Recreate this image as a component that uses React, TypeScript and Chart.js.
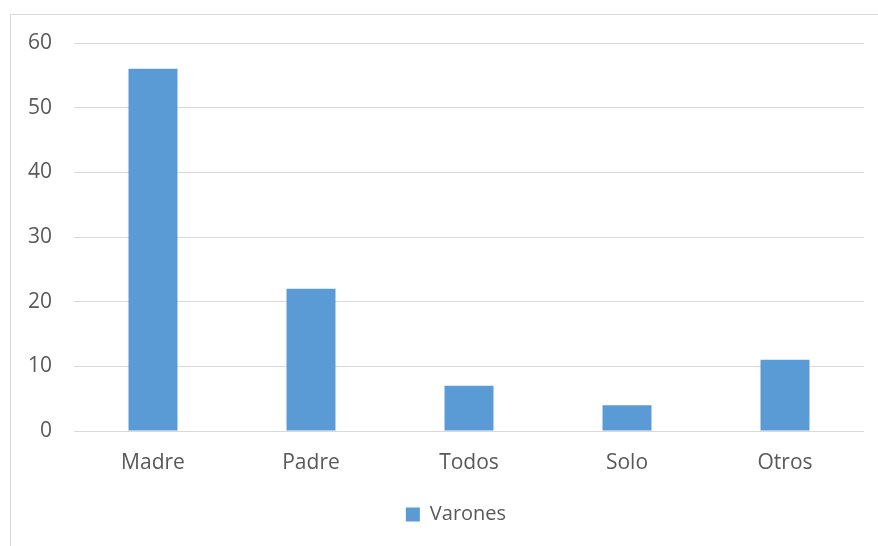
import React, { useEffect, useRef } from "react";
import { Chart, registerables } from "chart.js";

Chart.register(...registerables);

const categories = ["Madre", "Padre", "Todos", "Solo", "Otros"];
const varones = [56, 22, 7, 4, 11];
const seriesLabel = "Varones";
const yMin = 0;
const yMax = 60;
const yStep = 10;

const TEXT = "#595959";
const GRID = "#d9d9d9";
const BAR = "#5b9bd5";
const FONT = "'Open Sans', 'Noto Sans', sans-serif";

const borderPlugin = {
  id: "outerBorder",
  beforeDraw(chart: any) {
    const ctx = chart.ctx;
    ctx.save();
    ctx.strokeStyle = GRID;
    ctx.lineWidth = 1;
    ctx.strokeRect(10.5, 14.5, chart.width, chart.height);
    ctx.restore();
  },
};

const legendShift = {
  id: "legendShift",
  afterLayout(chart: any) {
    if (chart.legend) {
      chart.legend.left += 48;
    }
  },
};

export default function App() {
  const ref = useRef<HTMLCanvasElement | null>(null);
  useEffect(() => {
    if (!ref.current) return;
    const chart = new Chart(ref.current, {
      type: "bar",
      data: {
        labels: categories,
        datasets: [
          {
            label: seriesLabel,
            data: varones,
            backgroundColor: BAR,
            borderWidth: 0,
            barPercentage: 0.31,
            categoryPercentage: 1,
          },
        ],
      },
      options: {
        animation: false,
        responsive: false,
        maintainAspectRatio: false,
        layout: { padding: { left: 0, right: 14, top: 43, bottom: 11.5 } },
        plugins: {
          legend: {
            position: "bottom",
            align: "center",
            labels: {
              color: TEXT,
              font: { family: FONT, size: 20 },
              boxWidth: 14,
              boxHeight: 14,
              padding: 10,
            },
          },
          tooltip: { enabled: false },
        },
        scales: {
          x: {
            grid: { display: false },
            border: { display: false },
            ticks: {
              color: TEXT,
              font: { family: FONT, size: 21 },
              padding: 11,
              maxRotation: 0,
            },
            afterFit(scale: any) {
              scale.height = 63.5;
            },
          },
          y: {
            min: yMin,
            max: yMax,
            grid: { color: GRID, lineWidth: 1, drawTicks: false },
            border: { display: false },
            ticks: {
              stepSize: yStep,
              color: TEXT,
              font: { family: FONT, size: 21 },
              padding: 22,
            },
            afterFit(scale: any) {
              scale.width = 74;
            },
          },
        },
      },
      plugins: [borderPlugin, legendShift],
    });
    return () => chart.destroy();
  }, []);
  return (
    <div style={{ position: "fixed", left: 0, top: 0, width: 878, height: 546, background: "#fff" }}>
      <canvas ref={ref} width={878} height={546} style={{ display: "block" }} />
    </div>
  );
}
